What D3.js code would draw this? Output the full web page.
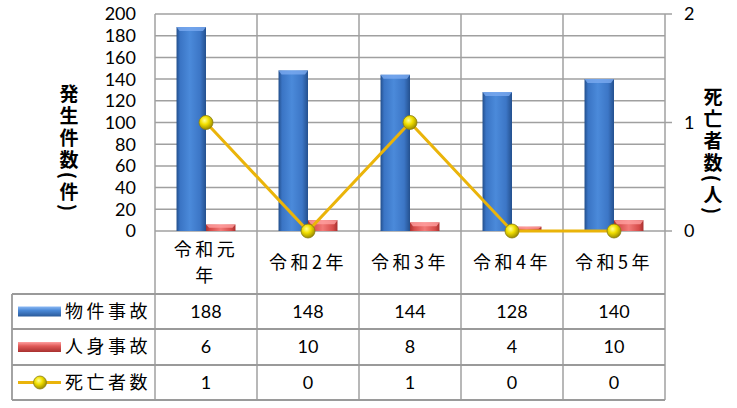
<!DOCTYPE html>
<html><head><meta charset="utf-8">
<script src="https://cdn.jsdelivr.net/npm/d3@7"></script>
<style>
html,body{margin:0;padding:0;background:#fff;}
svg{display:block;}
text{font-family:"Noto Sans CJK JP","Noto Sans",sans-serif;fill:#000;}
text.num{font-family:Lato,"Open Sans",sans-serif;}
</style></head>
<body>
<svg id="c" width="737" height="408"></svg>
<script>
const categories = ["令和元年","令和2年","令和3年","令和4年","令和5年"];
const propertyAccidents = [188,148,144,128,140];
const injuryAccidents = [6,10,8,4,10];
const deaths = [1,0,1,0,0];
const seriesNames = ["物件事故","人身事故","死亡者数"];
const leftTicks = [0,20,40,60,80,100,120,140,160,180,200];
const rightTicks = [0,1,2];
const leftTitle = "発生件数(件)";
const rightTitle = "死亡者数(人)";

const svg = d3.select("#c");
const L=155, R=665, T=14, B=231;
const rowB = [294,329,365,400];
const tableLeft = 12;

const x = d3.scaleBand().domain(categories).range([L,R]).padding(0);
const xs = d3.scaleBand().domain(["p","i"]).range([0,x.bandwidth()]).paddingInner(0).paddingOuter(0.73);
const y = d3.scaleLinear().domain([0,200]).range([B,T]);
const y2 = d3.scaleLinear().domain([0,2]).range([B,T]);

const defs = svg.append("defs");
function hgrad(id, stops){
  const g = defs.append("linearGradient").attr("id",id).attr("x1","0").attr("x2","1").attr("y1","0").attr("y2","0");
  stops.forEach(s=>g.append("stop").attr("offset",s[0]).attr("stop-color",s[1]));
}
hgrad("gBlue",[["0%","#234f8c"],["12%","#3a74c4"],["45%","#4b8ada"],["80%","#3c76c6"],["100%","#24508e"]]);
hgrad("gRed",[["0%","#a8302f"],["15%","#d64c4a"],["50%","#f27a78"],["85%","#d64c4a"],["100%","#a8302f"]]);
const rg = defs.append("radialGradient").attr("id","gMark").attr("cx","0.4").attr("cy","0.35").attr("r","0.65");
rg.append("stop").attr("offset","0%").attr("stop-color","#ffff9a");
rg.append("stop").attr("offset","45%").attr("stop-color","#f2e000");
rg.append("stop").attr("offset","100%").attr("stop-color","#9c8c00");

// gridlines
const grid = svg.append("g");
grid.selectAll("line.h").data(leftTicks).join("line")
  .attr("x1",L).attr("x2",R).attr("y1",d=>y(d)).attr("y2",d=>y(d))
  .attr("stroke","#a0a0a0").attr("stroke-width",1.5);
grid.selectAll("line.rt").data(rightTicks).join("line")
  .attr("x1",R).attr("x2",R+7).attr("y1",d=>y2(d)).attr("y2",d=>y2(d))
  .attr("stroke","#a0a0a0").attr("stroke-width",1.5);
const bounds = categories.map(c=>x(c)).concat([R]);
grid.selectAll("line.v").data(bounds).join("line")
  .attr("x1",d=>d).attr("x2",d=>d).attr("y1",T).attr("y2",rowB[3])
  .attr("stroke","#a0a0a0").attr("stroke-width",1.5);
grid.selectAll("line.tr").data(rowB).join("line")
  .attr("x1",tableLeft).attr("x2",R).attr("y1",d=>d).attr("y2",d=>d)
  .attr("stroke","#9a9a9a").attr("stroke-width",1.8);
grid.append("line").attr("x1",tableLeft).attr("x2",tableLeft).attr("y1",rowB[0]).attr("y2",rowB[3])
  .attr("stroke","#9a9a9a").attr("stroke-width",1.8);

// bars
function drawBars(vals, key, fill, bevel){
  const g = svg.append("g");
  vals.forEach((v,i)=>{
    const bx = x(categories[i])+xs(key), bw = xs.bandwidth();
    const top = y(v);
    g.append("rect").attr("x",bx).attr("y",top).attr("width",bw).attr("height",B-top).attr("fill",`url(#${fill})`);
    const bv = Math.min(4,(B-top)/2);
    g.append("path").attr("d",`M${bx},${top}L${bx+bw},${top}L${bx+bw-3},${top+bv}L${bx+3},${top+bv}Z`).attr("fill",bevel).attr("opacity",0.8);
  });
}
drawBars(propertyAccidents,"p","gBlue","#7aaaf0");
drawBars(injuryAccidents,"i","gRed","#ffa0a0");

// line
const cx = c=>x(c)+x.bandwidth()/2;
svg.append("path").datum(deaths)
  .attr("d", d3.line().x((d,i)=>cx(categories[i])).y(d=>y2(d)))
  .attr("fill","none").attr("stroke","#eab40a").attr("stroke-width",3);
svg.append("g").selectAll("circle").data(deaths).join("circle")
  .attr("cx",(d,i)=>cx(categories[i])).attr("cy",d=>y2(d)).attr("r",7)
  .attr("fill","url(#gMark)").attr("stroke","#8a7d10").attr("stroke-width",0.8);

// tick labels
svg.append("g").selectAll("text").data(leftTicks).join("text").attr("class","num")
  .attr("x",136).attr("y",d=>y(d)).attr("dy","0.36em").attr("text-anchor","end")
  .attr("font-size",18).text(d=>d);
svg.append("g").selectAll("text").data(rightTicks).join("text").attr("class","num")
  .attr("x",684).attr("y",d=>y2(d)).attr("dy","0.36em").attr("text-anchor","start")
  .attr("font-size",18).text(d=>d);

// axis titles (vertical)
function vtitle(t, xx, yy){
  svg.append("text").attr("x",xx).attr("y",yy).attr("text-anchor","middle")
    .style("writing-mode","vertical-rl").attr("font-size",19).attr("font-weight","bold")
    .attr("letter-spacing",3).text(t);
}
vtitle(leftTitle, 69, 149);
vtitle(rightTitle, 713, 152);

// category header labels
const hdr = svg.append("g");
categories.forEach(c=>{
  const t = hdr.append("text").attr("x",cx(c)).attr("text-anchor","middle").attr("font-size",18).attr("letter-spacing",3.5);
  t.text(c);
  const w = t.node().getComputedTextLength();
  const mid = (B+rowB[0])/2;
  if (w > 78) {
    t.text(null);
    const a = c.slice(0,-1), b = c.slice(-1);
    t.append("tspan").attr("x",cx(c)).attr("y",mid-13).attr("dy","0.35em").text(a);
    t.append("tspan").attr("x",cx(c)).attr("y",mid+13).attr("dy","0.35em").text(b);
  } else {
    t.attr("y",mid).attr("dy","0.35em");
  }
});

// table values + legend names
const rowsData = [propertyAccidents, injuryAccidents, deaths];
rowsData.forEach((arr,r)=>{
  const mid = (rowB[r]+rowB[r+1])/2;
  svg.append("g").selectAll("text").data(arr).join("text").attr("class","num")
    .attr("x",(d,i)=>cx(categories[i])).attr("y",mid).attr("dy","0.36em")
    .attr("text-anchor","middle").attr("font-size",18).text(d=>d);
  svg.append("text").attr("x",65).attr("y",mid).attr("dy","0.35em")
    .attr("font-size",18).attr("letter-spacing",3.5).text(seriesNames[r]);
});
// legend keys
const k1 = (rowB[0]+rowB[1])/2, k2=(rowB[1]+rowB[2])/2, k3=(rowB[2]+rowB[3])/2;
[[k1,"gBlue"],[k2,"gRed"]].forEach(([m,f])=>{
  const g = defs.append("linearGradient").attr("id","v"+f).attr("x1",0).attr("x2",0).attr("y1",0).attr("y2",1);
  const cols = f==="gBlue"?["#8ab8f4","#4a88d6","#2a5a9a"]:["#ffa0a0","#e05a58","#a8302f"];
  g.append("stop").attr("offset","0%").attr("stop-color",cols[0]);
  g.append("stop").attr("offset","40%").attr("stop-color",cols[1]);
  g.append("stop").attr("offset","100%").attr("stop-color",cols[2]);
  svg.append("rect").attr("x",18).attr("y",m-5).attr("width",43).attr("height",10).attr("fill",`url(#v${f})`);
});
svg.append("line").attr("x1",18).attr("x2",61).attr("y1",k3).attr("y2",k3).attr("stroke","#eab40a").attr("stroke-width",3);
svg.append("circle").attr("cx",40).attr("cy",k3).attr("r",6.5).attr("fill","url(#gMark)").attr("stroke","#8a7d10").attr("stroke-width",0.8);
</script>
</body></html>
